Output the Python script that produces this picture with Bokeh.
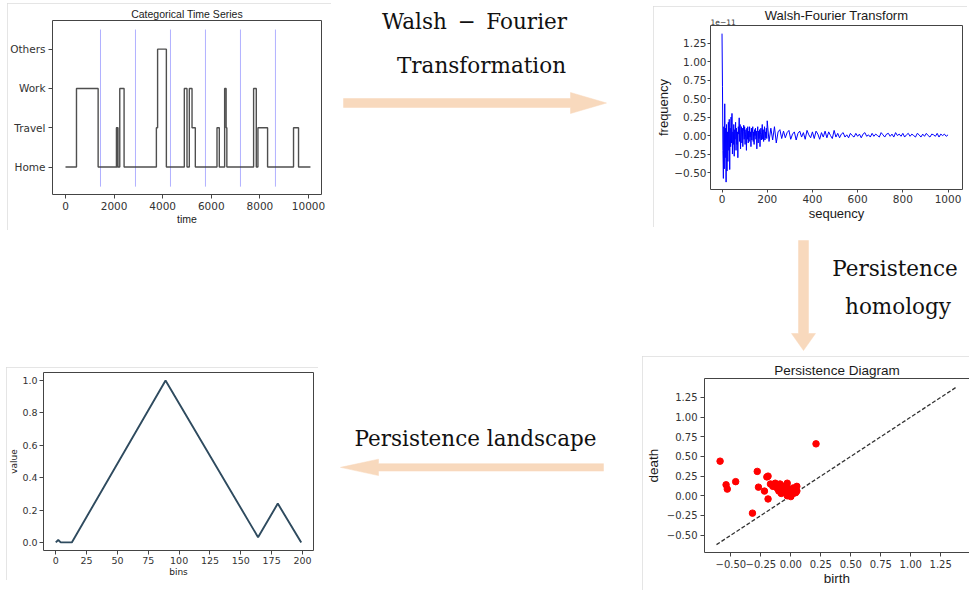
import numpy as np
from bokeh.plotting import figure
from bokeh.models import Range1d, FixedTicker, Title, Spacer, LinearAxis
from bokeh.layouts import row, column
from bokeh.core.properties import value
from bokeh.embed import file_html
from bokeh.resources import INLINE

# ---------------- data ----------------
# Panel 1: categorical time series (minutes over one week)
ts_categories = ["Home", "Travel", "Work", "Others"]
ts_time = [0, 452, 1343, 2096, 2115, 2135, 2160, 2233, 2411, 3740, 3790, 4151,
           4890, 5000, 5096, 5207, 5343, 6234, 6330, 6549, 6610, 6640, 7741,
           7851, 7919, 8316, 9384, 9590, 10080]
ts_state = ["Home", "Work", "Home", "Travel", "Home", "Travel", "Home", "Work",
            "Home", "Travel", "Others", "Home", "Work", "Home", "Work", "Travel",
            "Home", "Travel", "Home", "Work", "Travel", "Home", "Work", "Home",
            "Travel", "Home", "Travel", "Home", "Home"]
day_marks = [1440, 2880, 4320, 5760, 7200, 8640]
ts_xticks = [0, 2000, 4000, 6000, 8000, 10000]

# Panel 2: Walsh-Fourier transform (units of 1e-11)
wft_low = [1.38, 0.66, -0.20, -0.58, 0.12, -0.45, 0.43, -0.30, 0.10, -0.63,
           0.15, -0.48, 0.05, -0.35, 0.18, -0.20, 0.22, -0.46, 0.10, -0.15,
           0.25, -0.10, 0.30, -0.25, 0.05, -0.12, 0.15, -0.28, 0.08, -0.05,
           0.18, -0.20, 0.10, -0.12, 0.05, -0.30, 0.12, 0.02, 0.24, -0.08,
           0.15, -0.18, 0.04, 0.12, -0.10, 0.10, -0.15, 0.05, 0.14, -0.05,
           0.12, -0.12, 0.02, 0.08, -0.20, 0.10, -0.05, 0.12, -0.10, 0.06,
           -0.08, 0.12, -0.02, 0.05, -0.15, 0.10, -0.06, 0.03, 0.12, -0.08,
           0.05, -0.12, 0.08, 0.00, 0.10, -0.05, 0.06, -0.18, 0.04, 0.12,
           -0.10, 0.06, -0.04, 0.08, -0.15, 0.02, 0.10, -0.06, 0.04, 0.15,
           -0.05, 0.08, -0.08, 0.03, 0.12, -0.06, 0.05, -0.03, 0.10, -0.04]
wft_high = [0.20, -0.08, 0.10, -0.06, 0.12, -0.10, 0.05, 0.08,
            -0.04, 0.06, -0.03, 0.04, 0.07, -0.05, 0.02, 0.05, -0.06, 0.03,
            0.06, -0.02, 0.04, -0.05, 0.07, 0.01, -0.03, 0.05, -0.04, 0.06,
            0.02, -0.05, 0.04, -0.02, 0.06, -0.03, 0.05, 0.00, -0.04, 0.07,
            -0.02, 0.03, -0.03, 0.02, 0.04, -0.02, 0.01, -0.03, 0.03, 0.00,
            -0.02, 0.03, -0.01, 0.02, -0.03, 0.02, 0.04, -0.01, 0.01, -0.02,
            0.03, -0.01, 0.02, 0.00, -0.02, 0.04, 0.01, -0.02, 0.02, 0.03,
            -0.01, 0.02, -0.02, 0.04, 0.00, 0.02, -0.01, 0.03, -0.02, 0.01,
            0.03, -0.01, 0.02, 0.00, -0.02, 0.03, 0.01, -0.02, 0.02, -0.01,
            0.03, 0.00, -0.02, 0.02, 0.01, -0.01, 0.03, -0.02, 0.02, 0.00,
            0.02, -0.01, 0.01]
wft_seq_low = list(range(0, 2 * len(wft_low), 2))
wft_seq_high = list(range(200, 200 + 8 * len(wft_high), 8))
wft_xticks = [0, 200, 400, 600, 800, 1000]
wft_yticks = [-0.5, -0.25, 0.0, 0.25, 0.5, 0.75, 1.0, 1.25]

# Panel 3: persistence diagram
pd_birth = [-0.59, 0.21, -0.54, -0.53, -0.46, -0.28, -0.27, -0.19, -0.20, -0.22,
            -0.19, -0.32, -0.17, -0.13, -0.09, -0.03, 0.05, 0.05, 0.01, -0.11,
            -0.07, -0.04, -0.02, -0.01, -0.08, -0.12, -0.15, -0.06, -0.02, 0.02,
            -0.10, -0.03, 0.00, 0.04, -0.05, 0.02]
pd_death = [0.44, 0.66, 0.14, 0.085, 0.18, 0.31, 0.11, 0.25, 0.24, 0.06,
            -0.04, -0.22, 0.15, 0.16, 0.15, 0.16, 0.12, 0.06, 0.05, 0.09,
            0.07, 0.05, 0.04, 0.02, 0.03, 0.11, 0.12, 0.12, 0.09, 0.10,
            0.06, 0.00, -0.01, 0.04, 0.08, 0.03]
pd_diag = [-0.62, 1.38]
pd_ticks = [-0.5, -0.25, 0.0, 0.25, 0.5, 0.75, 1.0, 1.25]

# Panel 4: persistence landscape
pl_bins = [0, 2, 4, 13, 89, 164, 180, 199]
pl_value = [0.0, 0.015, 0.0, 0.0, 1.0, 0.032, 0.24, 0.0]
pl_xticks = [0, 25, 50, 75, 100, 125, 150, 175, 200]
pl_yticks = [0.0, 0.2, 0.4, 0.6, 0.8, 1.0]

# ---------------- helpers ----------------
SPINE = "#444444"
TICKTXT = "#333333"
LABEL = "#1a1a1a"
ARROW = "#F8D9BD"
EN = "\u2002"


def fmt(v, nd):
    s = f"{v:.{nd}f}"
    return s.replace("-", "\u2212")


def make_fig(w, h, left, right, top, bottom, xr, yr):
    p = figure(width=w, height=h, x_range=Range1d(*xr), y_range=Range1d(*yr),
               output_backend="svg", toolbar_location=None, title=None,
               min_border_left=left, min_border_right=right,
               min_border_top=top, min_border_bottom=bottom,
               background_fill_color="white", border_fill_color="white")
    p.grid.visible = False
    p.outline_line_color = SPINE
    p.outline_line_width = 1
    p.styles = {"outline": "1px solid #dcdcdc", "outline-offset": "-1px"}
    return p


def style_axes(p, size, label_size, font="DejaVu Sans", label_font="Liberation Sans",
               standoff=3, tick_out=4):
    for ax in p.axis:
        ax.axis_line_color = None
        ax.major_tick_line_color = SPINE
        ax.major_tick_out = tick_out
        ax.major_tick_in = 0
        ax.minor_tick_line_color = None
        ax.major_label_standoff = standoff
        ax.major_label_text_font = font
        ax.major_label_text_font_size = f"{size}px"
        ax.major_label_text_color = TICKTXT
        ax.axis_label_standoff = 0
        ax.axis_label_text_font = label_font
        ax.axis_label_text_font_size = f"{label_size}px"
        ax.axis_label_text_font_style = "normal"
        ax.axis_label_text_color = LABEL


def add_title(p, text, size, standoff, font="Liberation Sans", align="center", color=LABEL):
    p.add_layout(Title(text=text, align=align, text_font=font, text_font_size=f"{size}px",
                       text_font_style="normal", text_color=color, standoff=standoff), "above")


def canvas(w, h):
    c = figure(width=w, height=h, x_range=Range1d(0, w), y_range=Range1d(h, 0),
               output_backend="svg", toolbar_location=None, title=None,
               x_axis_type=None, y_axis_type=None,
               min_border_left=0, min_border_right=0, min_border_top=0, min_border_bottom=0,
               background_fill_color="white", border_fill_color="white")
    c.grid.visible = False
    c.outline_line_color = None
    return c


def serif_text(c, xs, ys, texts):
    c.text(x=xs, y=ys, text=texts, text_font=value("DejaVu Serif"),
           text_font_size=value("21.5px"), text_align="center",
           text_baseline="middle", text_color="#111111")


# ---------------- panel 1 ----------------
p1 = make_fig(324, 227, 45, 10, 17, 36, (-535, 10535), (-0.7, 3.73))
p1.segment(x0=day_marks, x1=day_marks, y0=[-0.5] * len(day_marks), y1=[3.5] * len(day_marks),
           line_color="blue", line_alpha=0.35, line_width=0.9)
ts_idx = [ts_categories.index(s) for s in ts_state]
p1.step(x=ts_time, y=ts_idx, mode="after", line_color="#3c3c3c", line_width=1.4, line_alpha=0.9)
style_axes(p1, 10.5, 10.5)
p1.xaxis.ticker = FixedTicker(ticks=ts_xticks)
p1.yaxis.ticker = FixedTicker(ticks=list(range(len(ts_categories))))
p1.yaxis.major_label_overrides = {i: c for i, c in enumerate(ts_categories)}
p1.xaxis.axis_label = "time"
add_title(p1, "Categorical Time Series", 10.5, 1)

# ---------------- panel 2 ----------------
p2 = make_fig(314, 221, 56, 5, 19, 38, (-51, 1064), (-0.73, 1.49))
p2.line(x=wft_seq_low + wft_seq_high, y=wft_low + wft_high, line_color="blue", line_width=1)
style_axes(p2, 10.5, 13, standoff=2, tick_out=3)
p2.yaxis.major_label_standoff = 1
p2.xaxis.ticker = FixedTicker(ticks=wft_xticks)
p2.yaxis.ticker = FixedTicker(ticks=wft_yticks)
p2.yaxis.major_label_overrides = {t: fmt(t, 2) for t in wft_yticks}
p2.xaxis.axis_label = "sequency"
p2.yaxis.axis_label = "frequency"
add_title(p2, "1e\u221211", 7.5, 1, font="DejaVu Sans", align="left", color=TICKTXT)
add_title(p2, "Walsh-Fourier Transform", 13, -12)

# ---------------- panel 3 ----------------
p3 = make_fig(327, 234, 61, 0, 22, 38, (-0.72, 1.49), (-0.72, 1.49))
p3.outline_line_color = None
p3.line(x=pd_diag, y=pd_diag, line_color="black", line_alpha=0.8, line_width=1.3, line_dash="4 2")
p3.scatter(x=pd_birth, y=pd_death, size=6.5, fill_color="red", line_color="red")
style_axes(p3, 10, 13.5)
for ax in p3.axis:
    ax.axis_line_color = SPINE
    ax.ticker = FixedTicker(ticks=pd_ticks)
    ax.major_label_overrides = {t: fmt(t, 2) for t in pd_ticks}
p3.yaxis.axis_label_standoff = 3
p3.xaxis.axis_label = "birth"
p3.yaxis.axis_label = "death"
top_ax = LinearAxis(axis_line_color=SPINE, major_tick_line_color=None, minor_tick_line_color=None,
                    ticker=FixedTicker(ticks=[]), major_tick_out=0, major_tick_in=0,
                    major_label_standoff=0)
p3.add_layout(top_ax, "above")
add_title(p3, "Persistence Diagram", 13.5, 2)

# ---------------- panel 4 ----------------
p4 = make_fig(312, 213, 35, 5, 5, 30, (-9.95, 208.95), (-0.05, 1.05))
p4.line(x=pl_bins, y=pl_value, line_color="#2F4B5F", line_width=1.9)
style_axes(p4, 9.5, 9, label_font="DejaVu Sans", standoff=2)
p4.xaxis.ticker = FixedTicker(ticks=pl_xticks)
p4.yaxis.ticker = FixedTicker(ticks=pl_yticks)
p4.yaxis.major_label_overrides = {t: fmt(t, 1) for t in pl_yticks}
p4.xaxis.axis_label = "bins"
p4.yaxis.axis_label = "value"

# ---------------- connectors ----------------
m1 = canvas(322, 235)
m1.patch(x=[12, 239, 239, 275, 239, 239, 12], y=[98, 98, 92, 102.5, 113, 107, 107],
         fill_color=ARROW, line_color=ARROW, line_width=0.5)
serif_text(m1, [143, 150], [21, 65], ["Walsh" + EN + "\u2212" + EN + "Fourier", "Transformation"])

m2 = canvas(969, 121)
m2.patch(x=[798, 808, 808, 815, 803, 791, 798], y=[5, 5, 98, 98, 115, 98, 98],
         fill_color=ARROW, line_color=ARROW, line_width=0.5)
serif_text(m2, [894.5, 897.5], [33, 71], ["Persistence", "homology"])

m3 = canvas(324, 237)
m3.patch(x=[285, 60, 60, 22, 60, 60, 285], y=[114, 114, 108, 119, 130, 124, 124],
         fill_color=ARROW, line_color=ARROW, line_width=0.5)
serif_text(m3, [157], [80], ["Persistence landscape"])

# ---------------- layout ----------------
top = row(Spacer(width=7, height=235),
          column(Spacer(width=324, height=3), p1),
          m1,
          column(Spacer(width=314, height=6), p2))
bottom = row(Spacer(width=6, height=237),
             column(Spacer(width=312, height=11), p4),
             m3,
             p3)
layout = column(top, m2, bottom)

open("out.html", "w").write(file_html(layout, INLINE))
